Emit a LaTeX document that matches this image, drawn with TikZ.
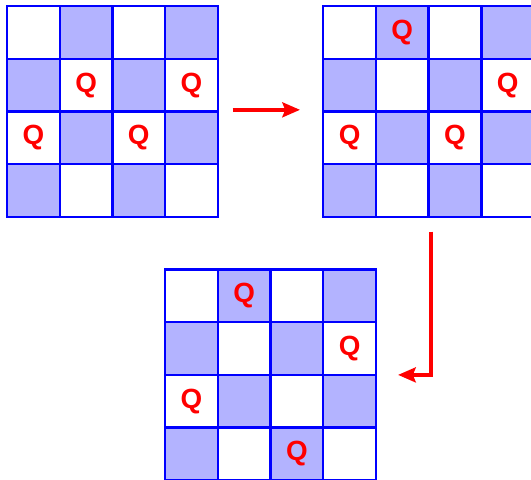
\documentclass[tikz,border=0pt]{standalone}
\usepackage{fontspec}
\setsansfont{Liberation Sans}
\usepackage{xcolor}
\usepackage{tikz}
\usetikzlibrary{arrows.meta, positioning}
\definecolor{boardblue}{RGB}{179,179,255}
\tikzstyle{frame} = [rectangle, minimum size=4cm, inner sep=0pt, outer sep=0pt]
\tikzstyle{cell} = [rectangle, minimum size=1cm, inner sep=0pt, outer sep=0pt]
\tikzstyle{cellline} = [draw=blue, line width=1.3pt]
\tikzstyle{queen} = [text=red, font=\sffamily\bfseries\fontsize{15}{17}\selectfont]
\tikzstyle{arrow} = [draw=red, line width=2pt, -{Stealth[length=9.5pt, width=8pt, inset=1.5pt]}]

% #1 = board name, #2 = queens as column/row
\newcommand{\drawboard}[2]{%
  \begin{scope}[shift={(#1.north west)}]
    \foreach \c in {0,...,3} \foreach \r in {0,...,3} {
      \pgfmathtruncatemacro{\odd}{mod(\c+\r,2)}
      \ifnum\odd=1 \def\cellfill{boardblue}\else\def\cellfill{white}\fi
      \node (#1-\c\r) [cell, fill=\cellfill] at (\c+0.5,-\r-0.5) {};
    }
    \foreach \c in {0,...,3} \foreach \r in {0,...,3}
      \draw [cellline] (#1-\c\r.north west) rectangle (#1-\c\r.south east);
    \foreach \c/\r in {#2}
      \node (#1-q\c\r) [queen] at (#1-\c\r) {Q};
  \end{scope}
}

\begin{document}
\begin{tikzpicture}
    \useasboundingbox (0,0) rectangle (10.076,-9.108);
    \clip (0,0) rectangle (10.076,-9.108);

    \node (b1) [frame] at (2.133,-2.114) {};
    \node (b2) [frame, right=2cm of b1] {};
    \node (b3) [frame, below=1cm of b1, xshift=3cm] {};

    \drawboard{b1}{1/1, 3/1, 0/2, 2/2}
    \drawboard{b2}{1/0, 3/1, 0/2, 2/2}
    \drawboard{b3}{1/0, 3/1, 0/2, 2/3}

    \draw [arrow] ([xshift=0.28cm, yshift=0.03cm]b1.east) -- ([xshift=-0.44cm, yshift=0.03cm]b2.west);
    \draw [arrow] ([xshift=0.04cm, yshift=-0.28cm]b2-23.south west) |- ([xshift=0.42cm]b3.east);
\end{tikzpicture}
\end{document}
